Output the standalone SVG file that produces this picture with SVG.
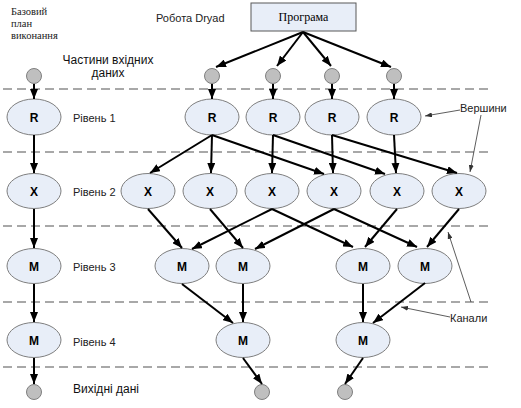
<svg xmlns="http://www.w3.org/2000/svg" width="521" height="408" viewBox="0 0 521 408">
<defs>
<style>
.bg{fill:#ffffff}
.dash{stroke:#8c8c8c;stroke-width:1.5;stroke-dasharray:9 5;fill:none}
.node ellipse{fill:#e8eef8;stroke:#7f7f7f;stroke-width:1}
.dot{fill:#bfbfbf;stroke:#7f7f7f;stroke-width:1}
.nl{font-family:"Liberation Sans",Arial,sans-serif;font-size:12px;font-weight:bold;text-anchor:middle;fill:#000}
.lbl{font-family:"Liberation Sans",Arial,sans-serif;font-size:11px;fill:#222}
.lbl12{font-family:"Liberation Sans",Arial,sans-serif;font-size:12px;fill:#111}
.ser{font-family:"Liberation Serif","Times New Roman",serif;font-size:10.5px;fill:#222}
.edges line{stroke:#000;stroke-width:2;marker-end:url(#ah)}
.thin line{stroke:#333;stroke-width:0.8;marker-end:url(#ahs)}
</style>
<marker id="ah" markerUnits="userSpaceOnUse" markerWidth="10" markerHeight="8" refX="10" refY="4" orient="auto">
<path d="M0,0 L10,4 L0,8 z" fill="#000"/>
</marker>
<marker id="ahs" markerUnits="userSpaceOnUse" markerWidth="7" markerHeight="5" refX="7" refY="2.5" orient="auto">
<path d="M0,0 L7,2.5 L0,5 z" fill="#333"/>
</marker>
</defs>
<rect class="bg" x="0" y="0" width="521" height="408"/>

<g id="levels">
<line class="dash" x1="3" y1="89" x2="488" y2="89"/>
<line class="dash" x1="3" y1="152" x2="488" y2="152"/>
<line class="dash" x1="3" y1="226" x2="488" y2="226"/>
<line class="dash" x1="3" y1="302" x2="488" y2="302"/>
<line class="dash" x1="3" y1="367" x2="488" y2="367"/>
</g>

<g id="texts">
<text class="ser" x="11" y="15">Базовий</text>
<text class="ser" x="11" y="27">план</text>
<text class="ser" x="11" y="39">виконання</text>
<text class="lbl" x="156" y="22">Робота Dryad</text>
<text class="lbl12" x="108" y="64" text-anchor="middle">Частини вхідних</text>
<text class="lbl12" x="108" y="77" text-anchor="middle">даних</text>
<text class="lbl" x="73" y="122">Рівень 1</text>
<text class="lbl" x="73" y="196">Рівень 2</text>
<text class="lbl" x="73" y="271">Рівень 3</text>
<text class="lbl" x="73" y="346">Рівень 4</text>
<text class="lbl12" x="73" y="393">Вихідні дані</text>
<text class="lbl" x="460" y="112">Вершини</text>
<text class="lbl" x="450" y="322">Канали</text>
</g>

<g id="program" class="node">
<rect x="251" y="3" width="105" height="28" fill="#e8eef8" stroke="#595959" stroke-width="1"/>
<text x="303.5" y="21" text-anchor="middle" font-family="'Liberation Serif','Times New Roman',serif" font-size="12px" fill="#000">Програма</text>
</g>

<g id="inputs">
<circle class="dot" cx="34" cy="76" r="7.5"/>
<circle class="dot" cx="212" cy="76" r="7.5"/>
<circle class="dot" cx="273" cy="76" r="7.5"/>
<circle class="dot" cx="332" cy="76" r="7.5"/>
<circle class="dot" cx="394" cy="76" r="7.5"/>
</g>
<g id="outputs">
<circle class="dot" cx="34" cy="392" r="7.5"/>
<circle class="dot" cx="262" cy="392" r="7.5"/>
<circle class="dot" cx="345" cy="392" r="7.5"/>
</g>

<g id="R0" class="node"><ellipse cx="34" cy="117" rx="27" ry="18"/><text class="nl" x="34" y="121.5">R</text></g>
<g id="X0" class="node"><ellipse cx="34" cy="191" rx="27" ry="17.5"/><text class="nl" x="34" y="195.5">X</text></g>
<g id="M0a" class="node"><ellipse cx="34" cy="266" rx="27" ry="17.5"/><text class="nl" x="34" y="270.5">M</text></g>
<g id="M0b" class="node"><ellipse cx="34" cy="340" rx="27" ry="17.5"/><text class="nl" x="34" y="344.5">M</text></g>

<g id="R1" class="node"><ellipse cx="212" cy="117" rx="27" ry="18"/><text class="nl" x="212" y="121.5">R</text></g>
<g id="R2" class="node"><ellipse cx="273" cy="117" rx="27" ry="18"/><text class="nl" x="273" y="121.5">R</text></g>
<g id="R3" class="node"><ellipse cx="332" cy="117" rx="27" ry="18"/><text class="nl" x="332" y="121.5">R</text></g>
<g id="R4" class="node"><ellipse cx="394" cy="117" rx="27" ry="18"/><text class="nl" x="394" y="121.5">R</text></g>

<g id="X1" class="node"><ellipse cx="148" cy="191" rx="27" ry="17.5"/><text class="nl" x="148" y="195.5">X</text></g>
<g id="X2" class="node"><ellipse cx="210" cy="191" rx="27" ry="17.5"/><text class="nl" x="210" y="195.5">X</text></g>
<g id="X3" class="node"><ellipse cx="272" cy="191" rx="27" ry="17.5"/><text class="nl" x="272" y="195.5">X</text></g>
<g id="X4" class="node"><ellipse cx="334" cy="191" rx="27" ry="17.5"/><text class="nl" x="334" y="195.5">X</text></g>
<g id="X5" class="node"><ellipse cx="397" cy="191" rx="27" ry="17.5"/><text class="nl" x="397" y="195.5">X</text></g>
<g id="X6" class="node"><ellipse cx="459" cy="191" rx="27" ry="17.5"/><text class="nl" x="459" y="195.5">X</text></g>

<g id="M1" class="node"><ellipse cx="182" cy="266" rx="27" ry="17.5"/><text class="nl" x="182" y="270.5">M</text></g>
<g id="M2" class="node"><ellipse cx="243" cy="266" rx="27" ry="17.5"/><text class="nl" x="243" y="270.5">M</text></g>
<g id="M3" class="node"><ellipse cx="363" cy="266" rx="27" ry="17.5"/><text class="nl" x="363" y="270.5">M</text></g>
<g id="M4" class="node"><ellipse cx="425" cy="266" rx="27" ry="17.5"/><text class="nl" x="425" y="270.5">M</text></g>

<g id="M5" class="node"><ellipse cx="243" cy="340" rx="27" ry="17.5"/><text class="nl" x="243" y="344.5">M</text></g>
<g id="M6" class="node"><ellipse cx="363" cy="340" rx="27" ry="17.5"/><text class="nl" x="363" y="344.5">M</text></g>

<g id="connectors" class="edges">
<line x1="34" y1="84" x2="34" y2="99"/>
<line x1="34" y1="135" x2="34" y2="173"/>
<line x1="34" y1="209" x2="34" y2="248"/>
<line x1="34" y1="284" x2="34" y2="322"/>
<line x1="34" y1="358" x2="34" y2="384"/>

<line x1="303" y1="32" x2="216" y2="67"/>
<line x1="303" y1="32" x2="277" y2="66"/>
<line x1="303" y1="32" x2="331" y2="66"/>
<line x1="303" y1="32" x2="391" y2="67"/>

<line x1="212" y1="84" x2="212" y2="99"/>
<line x1="273" y1="84" x2="273" y2="99"/>
<line x1="332" y1="84" x2="332" y2="99"/>
<line x1="394" y1="84" x2="394" y2="99"/>

<line x1="212" y1="135" x2="150" y2="173"/>
<line x1="212" y1="135" x2="211" y2="173"/>
<line x1="212" y1="135" x2="324" y2="174"/>
<line x1="273" y1="135" x2="272" y2="173"/>
<line x1="273" y1="135" x2="385" y2="174"/>
<line x1="332" y1="135" x2="333" y2="173"/>
<line x1="332" y1="135" x2="457" y2="173"/>
<line x1="394" y1="135" x2="396" y2="173"/>

<line x1="148" y1="209" x2="182" y2="248"/>
<line x1="210" y1="209" x2="243" y2="248"/>
<line x1="272" y1="209" x2="192" y2="249"/>
<line x1="272" y1="209" x2="353" y2="247"/>
<line x1="334" y1="209" x2="255" y2="249"/>
<line x1="334" y1="209" x2="417" y2="247"/>
<line x1="397" y1="209" x2="365" y2="247"/>
<line x1="459" y1="209" x2="427" y2="247"/>

<line x1="182" y1="284" x2="233" y2="323"/>
<line x1="243" y1="284" x2="243" y2="322"/>
<line x1="363" y1="284" x2="363" y2="322"/>
<line x1="425" y1="283" x2="373" y2="323"/>

<line x1="243" y1="358" x2="262" y2="384"/>
<line x1="363" y1="358" x2="345" y2="384"/>
</g>

<g id="annotations" class="thin">
<line x1="460" y1="110" x2="425" y2="116"/>
<line x1="481" y1="115" x2="470" y2="172"/>
<line x1="450" y1="317" x2="401" y2="307"/>
<line x1="471" y1="302" x2="448" y2="232"/>
</g>
</svg>
